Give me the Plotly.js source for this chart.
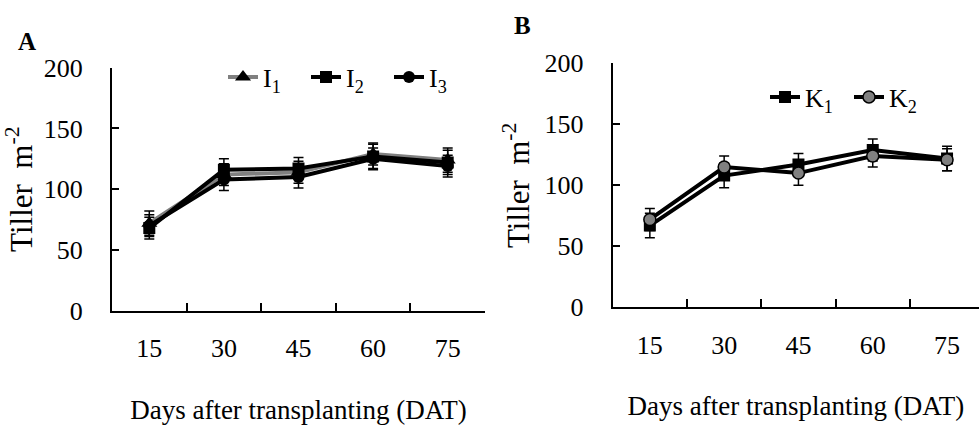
<!DOCTYPE html>
<html>
<head>
<meta charset="utf-8">
<script src="https://cdn.plot.ly/plotly-3.0.1.min.js"></script>
<style>html,body{margin:0;padding:0;background:#fff;}#chart{width:979px;height:425px;}</style>
</head>
<body>
<div id="chart"></div>
<script>
// Days after transplanting (categories)
const days = ["15", "30", "45", "60", "75"];

// Panel A: irrigation treatments (tillers m^-2)
const I1 = [72, 112, 114, 129, 124];
const I2 = [68, 116, 117, 127, 122];
const I3 = [70, 108, 110, 125, 119];
const I1err = [10, 9, 9, 9, 10];
const I2err = [9, 9, 9, 10, 10];
const I3err = [9, 9, 9, 9, 9];

// Panel B: potassium treatments (tillers m^-2)
const K1 = [67, 108, 117, 129, 122];
const K2 = [72, 115, 110, 124, 121];
const K1err = [10, 10, 9, 9, 10];
const K2err = [9, 9, 10, 9, 9];

const FONT = "Liberation Serif, Times New Roman, serif";
const W = 979, H = 425;

function err(arr) {
  return {type: "data", array: arr, visible: true, color: "#000", thickness: 1.5, width: 5};
}

const traces = [
  {x: days, y: I1, name: "I<sub>1</sub>", type: "scatter", mode: "lines+markers",
   line: {color: "#808080", width: 4}, marker: {symbol: "triangle-up", size: 14, color: "#000"},
   error_y: err(I1err), xaxis: "x", yaxis: "y", legend: "legend"},
  {x: days, y: I2, name: "I<sub>2</sub>", type: "scatter", mode: "lines+markers",
   line: {color: "#000", width: 4}, marker: {symbol: "square", size: 12, color: "#000"},
   error_y: err(I2err), xaxis: "x", yaxis: "y", legend: "legend"},
  {x: days, y: I3, name: "I<sub>3</sub>", type: "scatter", mode: "lines+markers",
   line: {color: "#000", width: 4}, marker: {symbol: "circle", size: 12, color: "#000"},
   error_y: err(I3err), xaxis: "x", yaxis: "y", legend: "legend"},
  {x: days, y: K1, name: "K<sub>1</sub>", type: "scatter", mode: "lines+markers",
   line: {color: "#000", width: 4}, marker: {symbol: "square", size: 12, color: "#000"},
   error_y: err(K1err), xaxis: "x2", yaxis: "y2", legend: "legend2"},
  {x: days, y: K2, name: "K<sub>2</sub>", type: "scatter", mode: "lines+markers",
   line: {color: "#000", width: 4}, marker: {symbol: "circle", size: 12, color: "#808080", line: {color: "#000", width: 1.5}},
   error_y: err(K2err), xaxis: "x2", yaxis: "y2", legend: "legend2"}
];

function xax(domain, range) {
  return {
    domain: domain, type: "category", range: range, tickson: "boundaries",
    showline: true, linecolor: "#000", linewidth: 2, mirror: false,
    ticks: "inside", ticklen: 8, tickwidth: 2, tickcolor: "#000",
    showgrid: false, zeroline: false, ticklabelstandoff: 13,
    tickfont: {family: FONT, size: 26, color: "#000"},
    title: {text: "Days after transplanting (DAT)", font: {family: FONT, size: 27, color: "#000"}, standoff: 38}
  };
}
function yax(domain, anchor) {
  return {
    domain: domain, range: [0, 200], dtick: 50, tick0: 0, anchor: anchor,
    showline: true, linecolor: "#000", linewidth: 2,
    ticks: "inside", ticklen: 7, tickwidth: 2, tickcolor: "#000",
    showgrid: false, zeroline: false, ticklabelstandoff: 22,
    tickfont: {family: FONT, size: 26, color: "#000"},
    title: {text: "Tiller  m<sup>-2</sup>", font: {family: FONT, size: 31, color: "#000"}, standoff: 6}
  };
}

const layout = {
  width: W, height: H,
  margin: {l: 0, r: 0, t: 0, b: 0},
  paper_bgcolor: "#fff", plot_bgcolor: "#fff",
  font: {family: FONT, color: "#000"},
  showlegend: true,
  xaxis: Object.assign(xax([112 / W, 485 / W], [-0.5, 4.5]), {anchor: "y"}),
  yaxis: yax([(H - 310.7) / H, (H - 67.7) / H], "x"),
  xaxis2: Object.assign(xax([612.7 / W, 1], [-0.5, 4.43]), {anchor: "y2"}),
  yaxis2: yax([(H - 307.3) / H, (H - 63.3) / H], "x2"),
  legend: {orientation: "h", x: 223 / W, xanchor: "left", y: (H - 77) / H, yanchor: "middle",
           bgcolor: "rgba(0,0,0,0)", borderwidth: 0, font: {family: FONT, size: 26, color: "#000"},
           itemwidth: 30, entrywidth: 38, entrywidthmode: "pixels", traceorder: "normal"},
  legend2: {orientation: "h", x: 765 / W, xanchor: "left", y: (H - 97) / H, yanchor: "middle",
            bgcolor: "rgba(0,0,0,0)", borderwidth: 0, font: {family: FONT, size: 26, color: "#000"},
            itemwidth: 30, entrywidth: 39, entrywidthmode: "pixels", traceorder: "normal"},
  annotations: [
    {text: "<b>A</b>", x: 27 / W, y: (H - 41.5) / H, xref: "paper", yref: "paper", showarrow: false,
     font: {family: FONT, size: 25, color: "#000"}, xanchor: "center", yanchor: "middle"},
    {text: "<b>B</b>", x: 522.5 / W, y: (H - 25) / H, xref: "paper", yref: "paper", showarrow: false,
     font: {family: FONT, size: 25, color: "#000"}, xanchor: "center", yanchor: "middle"}
  ]
};

Plotly.newPlot("chart", traces, layout, {staticPlot: true, displayModeBar: false});
</script>
</body>
</html>
